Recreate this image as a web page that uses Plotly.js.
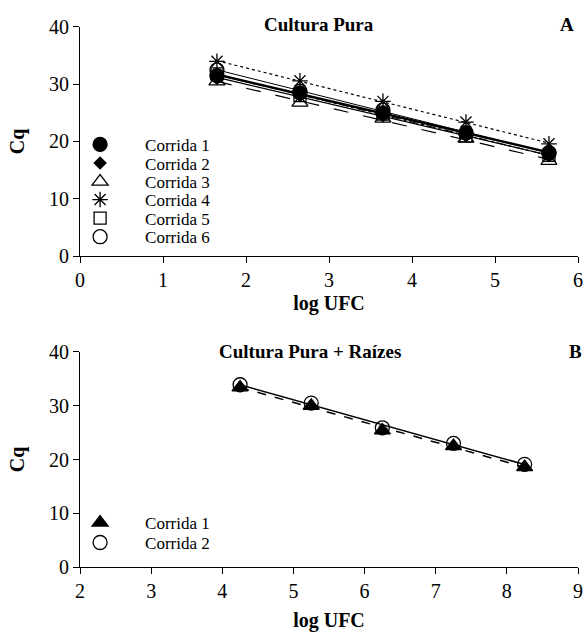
<!DOCTYPE html>
<html><head><meta charset="utf-8">
<script src="https://cdn.plot.ly/plotly-3.0.1.min.js"></script>
<style>html,body{margin:0;padding:0;background:#fff}#chart{width:585px;height:641px}</style>
</head><body><div id="chart"></div>
<script>
// Panel A: Cultura Pura
const xA = [1.65, 2.65, 3.65, 4.65, 5.65];
const runsA = ["Corrida 1","Corrida 2","Corrida 3","Corrida 4","Corrida 5","Corrida 6"];
const cqA1 = [31.5, 28.5, 25.0, 21.5, 18.0];
const cqA2 = [31.0, 28.0, 24.5, 21.0, 17.5];
const cqA3 = [30.5, 26.8, 24.0, 20.5, 16.6];
const cqA4 = [34.0, 30.6, 27.0, 23.4, 19.6];
const cqA5 = [31.8, 28.0, 24.8, 21.0, 17.6];
const cqA6 = [32.5, 28.8, 25.5, 21.5, 18.0];
// Panel B: Cultura Pura + Raízes
const xB = [4.25, 5.25, 6.25, 7.25, 8.25];
const runsB = ["Corrida 1","Corrida 2"];
const cqB1 = [33.4, 30.0, 25.4, 22.5, 18.6];
const cqB2 = [33.9, 30.5, 25.9, 23.0, 19.1];

function fit(x, y){
  const n=x.length; let sx=0,sy=0,sxx=0,sxy=0;
  for(let i=0;i<n;i++){sx+=x[i];sy+=y[i];sxx+=x[i]*x[i];sxy+=x[i]*y[i];}
  const b=(n*sxy-sx*sy)/(n*sxx-sx*sx), a=(sy-b*sx)/n;
  return x.map(v=>a+b*v);
}
const F = "Liberation Serif, Times New Roman, serif";
const K = "#000";
const symA = ["circle","diamond","triangle-up-open","asterisk-open","square-open","circle-open"];
const sizeA = [14,9,14,13,12,14];
const dashA = [{dash:"solid",width:2.5},{dash:"solid",width:1.2},{dash:"longdash",width:1.2},{dash:"dot",width:1.2},{dash:"dashdot",width:1.2},{dash:"solid",width:1}];
const dataA = [cqA1,cqA2,cqA3,cqA4,cqA5,cqA6];
const legPosA = [0.774, 0.745, 0.716, 0.688, 0.659, 0.630];
const legPosB = [0.184, 0.153];
const traces = [];
dataA.forEach((y,i)=>{
  traces.push({x:xA,y:fit(xA,y),mode:"lines",xaxis:"x",yaxis:"y",showlegend:false,hoverinfo:"skip",
    line:{color:K,width:dashA[i].width,dash:dashA[i].dash}});
});
const legendName = i => i===0 ? "legend" : "legend"+(i+1);
dataA.forEach((y,i)=>{
  traces.push({x:xA,y:y,mode:"markers",name:runsA[i],xaxis:"x",yaxis:"y",legend:legendName(i),
    marker:{symbol:symA[i],size:sizeA[i],color:K,line:{color:K,width:1.3}}});
});
const dataB=[cqB1,cqB2], symB=["triangle-up","circle-open"], dashB=["dash","solid"];
dataB.forEach((y,i)=>{
  traces.push({x:xB,y:fit(xB,y),mode:"lines",xaxis:"x2",yaxis:"y2",showlegend:false,hoverinfo:"skip",
    line:{color:K,width:1.5,dash:dashB[i]}});
});
dataB.forEach((y,i)=>{
  traces.push({x:xB,y:y,mode:"markers",name:runsB[i],xaxis:"x2",yaxis:"y2",legend:legendName(6+i),
    marker:{symbol:symB[i],size:14,color:K,line:{color:K,width:1.3}}});
});
const ax = {showline:true,linecolor:K,linewidth:1,ticks:"outside",ticklen:6,tickcolor:K,showgrid:false,zeroline:false,
  tickfont:{family:F,size:20,color:K}};
const tfont = {family:F,size:20,color:K,weight:"bold"};
const layout = {
  width:585,height:641,margin:{l:80,r:7,t:0,b:0},paper_bgcolor:"#fff",plot_bgcolor:"#fff",
  font:{family:F,color:K},
  xaxis:Object.assign({},ax,{domain:[0,1],range:[0,6],dtick:1,anchor:"y",
    title:{text:"log UFC",font:tfont,standoff:5}}),
  yaxis:Object.assign({},ax,{domain:[0.6006,0.9579],range:[0,40],dtick:10,anchor:"x",
    title:{text:"Cq",font:tfont,standoff:18}}),
  xaxis2:Object.assign({},ax,{domain:[0,1],range:[2,9],dtick:1,anchor:"y2",
    title:{text:"log UFC",font:tfont,standoff:11}}),
  yaxis2:Object.assign({},ax,{domain:[0.1154,0.4509],range:[0,40],dtick:10,anchor:"x2",
    title:{text:"Cq",font:tfont,standoff:18}}),
  annotations:[
    {text:"Cultura Pura",xref:"paper",yref:"paper",x:0.48,y:0.962,xanchor:"center",yanchor:"middle",showarrow:false,font:{family:F,size:19,color:K,weight:"bold"}},
    {text:"A",xref:"paper",yref:"paper",x:0.995,y:0.962,xanchor:"right",yanchor:"middle",showarrow:false,font:{family:F,size:19,color:K,weight:"bold"}},
    {text:"Cultura Pura + Raízes",xref:"paper",yref:"paper",x:0.462,y:0.451,xanchor:"center",yanchor:"middle",showarrow:false,font:{family:F,size:19,color:K,weight:"bold"}},
    {text:"B",xref:"paper",yref:"paper",x:1.012,y:0.451,xanchor:"right",yanchor:"middle",showarrow:false,font:{family:F,size:19,color:K,weight:"bold"}}
  ]
};
legPosA.concat(legPosB).forEach((p,i)=>{
  layout[legendName(i)] = {x:-0.05,y:p,xanchor:"left",yanchor:"middle",font:{family:F,size:17,color:K},
    bgcolor:"rgba(0,0,0,0)",itemwidth:80,borderwidth:0};
});
Plotly.newPlot("chart",traces,layout,{displayModeBar:false,staticPlot:true});
</script></body></html>
